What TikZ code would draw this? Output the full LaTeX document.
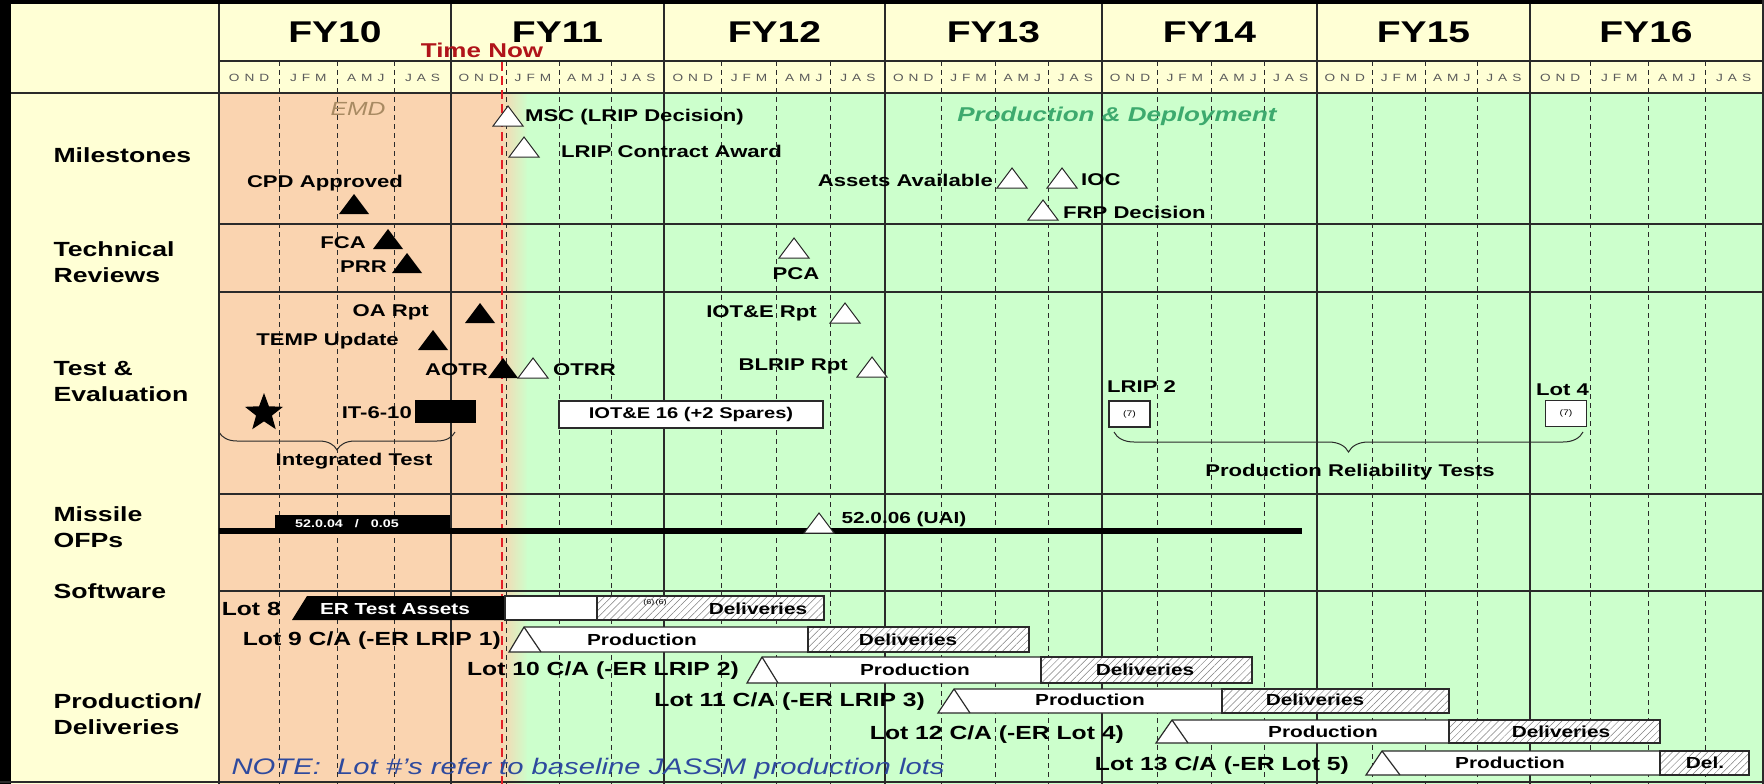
\documentclass[tikz,border=0pt]{standalone}
\usepackage{fontspec}
\setmainfont{Liberation Sans}[FakeStretch=1.3]
\usepackage{tikz}
\usetikzlibrary{shapes.geometric,decorations.pathreplacing,patterns.meta}
\definecolor{gyellow}{HTML}{FFFFD5}
\definecolor{gpeach}{HTML}{FAD4B0}
\definecolor{ggreen}{HTML}{CCFFCC}
\definecolor{gred}{HTML}{E41E26}
\definecolor{gdred}{HTML}{B0141A}
\definecolor{gline}{HTML}{2A2A2A}
\definecolor{gemd}{HTML}{A88A62}
\definecolor{gprod}{HTML}{3DAA6E}
\definecolor{gnote}{HTML}{2E4A9E}
\definecolor{gmonth}{HTML}{5A5A5A}
\newcommand{\gsize}[2]{\fontsize{#1}{#2}\selectfont}

\begin{document}
\begin{tikzpicture}[x=1pt,y=-1pt,
    rowlbl/.style={anchor=west,align=left,font=\gsize{20.5}{26}\bfseries},
    ann/.style={font=\gsize{17}{17}\bfseries,inner sep=1pt},
    lotlbl/.style={anchor=east,font=\gsize{19}{19}\bfseries,inner sep=1pt},
    bartxt/.style={font=\gsize{16}{16}\bfseries,inner sep=0pt},
    monlbl/.style={font=\gsize{10.5}{10.5},text=gmonth},
    barline/.style={draw=gline,line width=1.2pt},
    hatch/.style={barline,preaction={fill=white},
      pattern={Lines[angle=45,distance=5pt,line width=0.5pt]},pattern color=gray},
    qline/.style={gline,line width=0.9pt,dash pattern=on 5pt off 4pt},
    yline/.style={gline,line width=1.3pt},
    smallbox/.style={draw=gline,line width=1.2pt,fill=white,minimum width=41pt,
      minimum height=26pt,font=\gsize{8}{8}},
    openmile/.pic={\draw[gline,fill=white,line width=1pt] (-15,10) -- (0,-10) -- (15,10) -- cycle;},
    solidmile/.pic={\fill[black] (-15,10) -- (0,-10) -- (15,10) -- cycle;}]
  \useasboundingbox (0,0) rectangle (1764,784);

  % Background: label column / header, EMD and production phases
  \fill[gyellow] (0,0) rectangle (1764,784);
  \fill[gpeach] (219,93) rectangle (501,784);
  \shade[left color=gpeach,right color=ggreen] (500,93) rectangle (528,784);
  \fill[ggreen] (527,93) rectangle (1764,784);

  % Frame
  \fill[black] (0,0) rectangle (11,784);
  \fill[black] (0,0) rectangle (1764,4);
  \draw[gline,line width=1.5pt] (0,782) -- (1764,782);
  \draw[gline,line width=1.2pt] (1763,0) -- (1763,784);
  \draw[yline] (219,61) -- (1764,61);
  \draw[gline,line width=2.2pt] (11,93) -- (1764,93);
  \foreach \ry in {224,292,494,591}
    \draw[yline] (219,\ry) -- (1764,\ry);

  % Fiscal years and quarters
  \foreach \ya/\yb/\yr in {219/451/10,451/664/11,664/885/12,885/1102/13,
                           1102/1317/14,1317/1530/15,1530/1762/16} {
    \pgfmathsetmacro{\qa}{\ya+0.26*(\yb-\ya)}
    \pgfmathsetmacro{\qb}{\ya+0.51*(\yb-\ya)}
    \pgfmathsetmacro{\qc}{\ya+0.755*(\yb-\ya)}
    \foreach \q in {\qa,\qb,\qc}
      \draw[qline] (\q,61) -- (\q,784);
    \draw[yline] (\ya,4) -- (\ya,784);
    \node[font=\gsize{30}{30}\bfseries] (fy\yr) at ({(\ya+\yb)/2},32) {FY\yr};
    \node[monlbl] (ond\yr) at ({(\ya+\qa)/2},78) {O\hspace{5pt}N\hspace{5pt}D};
    \node[monlbl] (jfm\yr) at ({(\qa+\qb)/2},78) {J\hspace{5pt}F\hspace{5pt}M};
    \node[monlbl] (amj\yr) at ({(\qb+\qc)/2},78) {A\hspace{5pt}M\hspace{5pt}J};
    \node[monlbl] (jas\yr) at ({(\qc+\yb)/2},78) {J\hspace{5pt}A\hspace{5pt}S};
  }

  % Time now
  \draw[gred,line width=2.8pt,dash pattern=on 9pt off 5pt] (502,62) -- (502,784);
  \node[font=\gsize{20}{20}\bfseries,text=gdred] (timenow) at (482,50) {Time Now};

  % Row labels
  \node[rowlbl] (milestones) at (50,155) {Milestones};
  \node[rowlbl] (techrev) at (50,262) {Technical\\Reviews};
  \node[rowlbl] (testeval) at (50,382) {Test \&\\Evaluation};
  \node[rowlbl] (missile) at (50,527) {Missile\\OFPs};
  \node[rowlbl] (software) at (50,591) {Software};
  \node[rowlbl] (proddel) at (50,714) {Production/\\Deliveries};

  % Phases
  \node[font=\gsize{19}{19}\itshape,text=gemd] (emd) at (358,109) {EMD};
  \node[font=\gsize{20}{20}\bfseries\itshape,text=gprod] (proddep) at (1117,116)
    {Production \& Deployment};

  % Milestones
  \pic at (508,116) {openmile};
  \node[ann,anchor=west] (msc) at (524,117) {MSC (LRIP Decision)};
  \pic at (524,147) {openmile};
  \node[ann,anchor=west] (lripaward) at (560,151) {LRIP Contract Award};
  \node[ann] (cpd) at (325,183) {CPD Approved};
  \pic at (354,204) {solidmile};
  \node[ann,anchor=east] (assets) at (994,180) {Assets Available};
  \pic at (1012,178) {openmile};
  \pic at (1062,178) {openmile};
  \node[ann,anchor=west] (ioc) at (1080,180) {IOC};
  \pic at (1043,210) {openmile};
  \node[ann,anchor=west] (frp) at (1062,212) {FRP Decision};

  % Technical reviews
  \node[ann,anchor=east] (fca) at (367,243) {FCA};
  \pic at (388,239) {solidmile};
  \node[ann,anchor=east] (prr) at (388,267) {PRR};
  \pic at (407,263) {solidmile};
  \pic at (794,248) {openmile};
  \node[ann] (pca) at (796,274) {PCA};

  % Test & evaluation
  \node[ann,anchor=east] (oarpt) at (430,312) {OA Rpt};
  \pic at (480,313) {solidmile};
  \node[ann,anchor=east] (tempupd) at (400,341) {TEMP Update};
  \pic at (433,340) {solidmile};
  \node[ann,anchor=east] (aotr) at (489,370) {AOTR};
  \pic at (503,368) {solidmile};
  \pic at (533,368) {openmile};
  \node[ann,anchor=west] (otrr) at (552,370) {OTRR};
  \node[star,star points=5,star point ratio=2.4,fill=black,minimum size=40pt,
        inner sep=0pt] (itstar) at (264,413) {};
  \node[ann,anchor=east] (it610) at (413,413) {IT-6-10};
  \fill[black] (415,400) rectangle (476,423);
  \draw[gline,line width=1pt,decorate,decoration={brace,mirror,amplitude=18pt}]
    (219,432) -- (455,432);
  \node[ann] (inttest) at (354,461) {Integrated Test};
  \node[draw=gline,line width=1.2pt,fill=white,minimum width=264pt,minimum height=27pt,
        font=\gsize{15.5}{15.5}\bfseries] (iote) at (691,414.5) {IOT\&E 16 (+2 Spares)};
  \node[ann,anchor=east] (ioterpt) at (818,313) {IOT\&E Rpt};
  \pic at (845,313) {openmile};
  \node[ann,anchor=east] (blrip) at (849,366) {BLRIP Rpt};
  \pic at (872,367) {openmile};
  \node[ann,anchor=west] (lrip2) at (1106,387) {LRIP 2};
  \node[smallbox] (lrip2box) at (1129.5,414) {(7)};
  \node[ann,anchor=west] (lot4) at (1535,390) {Lot 4};
  \node[smallbox] (lot4box) at (1566,413.5) {(7)};
  \draw[gline,line width=1pt,decorate,decoration={brace,mirror,amplitude=20pt}]
    (1114,432) -- (1583,432);
  \node[ann] (prt) at (1350,472) {Production Reliability Tests};

  % Missile OFPs
  \draw[black,line width=6pt] (219,531) -- (1302,531);
  \fill[black] (275,515) rectangle (450,531);
  \node[font=\gsize{11}{11}\bfseries,text=white] (ofp04) at (347,524)
    {52.0.04\hspace{12pt}/\hspace{12pt}0.05};
  \pic at (819,523) {openmile};
  \node[font=\gsize{16}{16}\bfseries,anchor=west] (ofp06) at (838,519) {52.0.06 (UAI)};

  % Lot 8
  \node[lotlbl] (lot8) at (282,609) {Lot 8};
  \fill[black] (292,620) -- (307,596) -- (505,596) -- (505,620) -- cycle;
  \node[bartxt,text=white] (erassets) at (395,609) {ER Test Assets};
  \draw[barline,fill=white] (505,596) rectangle (597,620);
  \draw[hatch] (597,596) rectangle (824,620);
  \node[font=\gsize{7}{7}] (six) at (655,603) {(6)\,(6)};
  \node[bartxt] (del8) at (758,609) {Deliveries};

  % Lot 9
  \node[lotlbl] (lot9) at (502,641) {Lot 9 C/A (-ER LRIP 1)};
  \draw[barline,fill=white] (509,652) -- (524,627) -- (808,627) -- (808,652) -- cycle;
  \draw[barline] (524,627) -- (541,652);
  \draw[hatch] (808,627) rectangle (1029,652);
  \node[bartxt] (prod9) at (642,640) {Production};
  \node[bartxt] (del9) at (908,640) {Deliveries};

  % Lot 10
  \node[lotlbl] (lot10) at (740,671) {Lot 10 C/A (-ER LRIP 2)};
  \draw[barline,fill=white] (747,683) -- (762,657) -- (1041,657) -- (1041,683) -- cycle;
  \draw[barline] (762,657) -- (778,683);
  \draw[hatch] (1041,657) rectangle (1252,683);
  \node[bartxt] (prod10) at (915,670) {Production};
  \node[bartxt] (del10) at (1145,670) {Deliveries};

  % Lot 11
  \node[lotlbl] (lot11) at (926,702) {Lot 11 C/A (-ER LRIP 3)};
  \draw[barline,fill=white] (938,713) -- (954,689) -- (1222,689) -- (1222,713) -- cycle;
  \draw[barline] (954,689) -- (970,713);
  \draw[hatch] (1222,689) rectangle (1449,713);
  \node[bartxt] (prod11) at (1090,700) {Production};
  \node[bartxt] (del11) at (1315,700) {Deliveries};

  % Lot 12
  \node[lotlbl] (lot12) at (1125,735) {Lot 12 C/A (-ER Lot 4)};
  \draw[barline,fill=white] (1156,743) -- (1172,720) -- (1449,720) -- (1449,743) -- cycle;
  \draw[barline] (1172,720) -- (1188,743);
  \draw[hatch] (1449,720) rectangle (1660,743);
  \node[bartxt] (prod12) at (1323,732) {Production};
  \node[bartxt] (del12) at (1561,732) {Deliveries};

  % Lot 13
  \node[lotlbl] (lot13) at (1350,766) {Lot 13 C/A (-ER Lot 5)};
  \draw[barline,fill=white] (1366,775) -- (1382,751) -- (1660,751) -- (1660,775) -- cycle;
  \draw[barline] (1382,751) -- (1400,775);
  \draw[hatch] (1660,751) rectangle (1749,775);
  \node[bartxt] (prod13) at (1510,763) {Production};
  \node[bartxt] (del13) at (1705,763) {Del.};

  % Note
  \node[anchor=west,font=\gsize{22.5}{22.5}\itshape,text=gnote] (note) at (228,769)
    {NOTE:\ \ Lot \#'s refer to baseline JASSM production lots};
\end{tikzpicture}
\end{document}
